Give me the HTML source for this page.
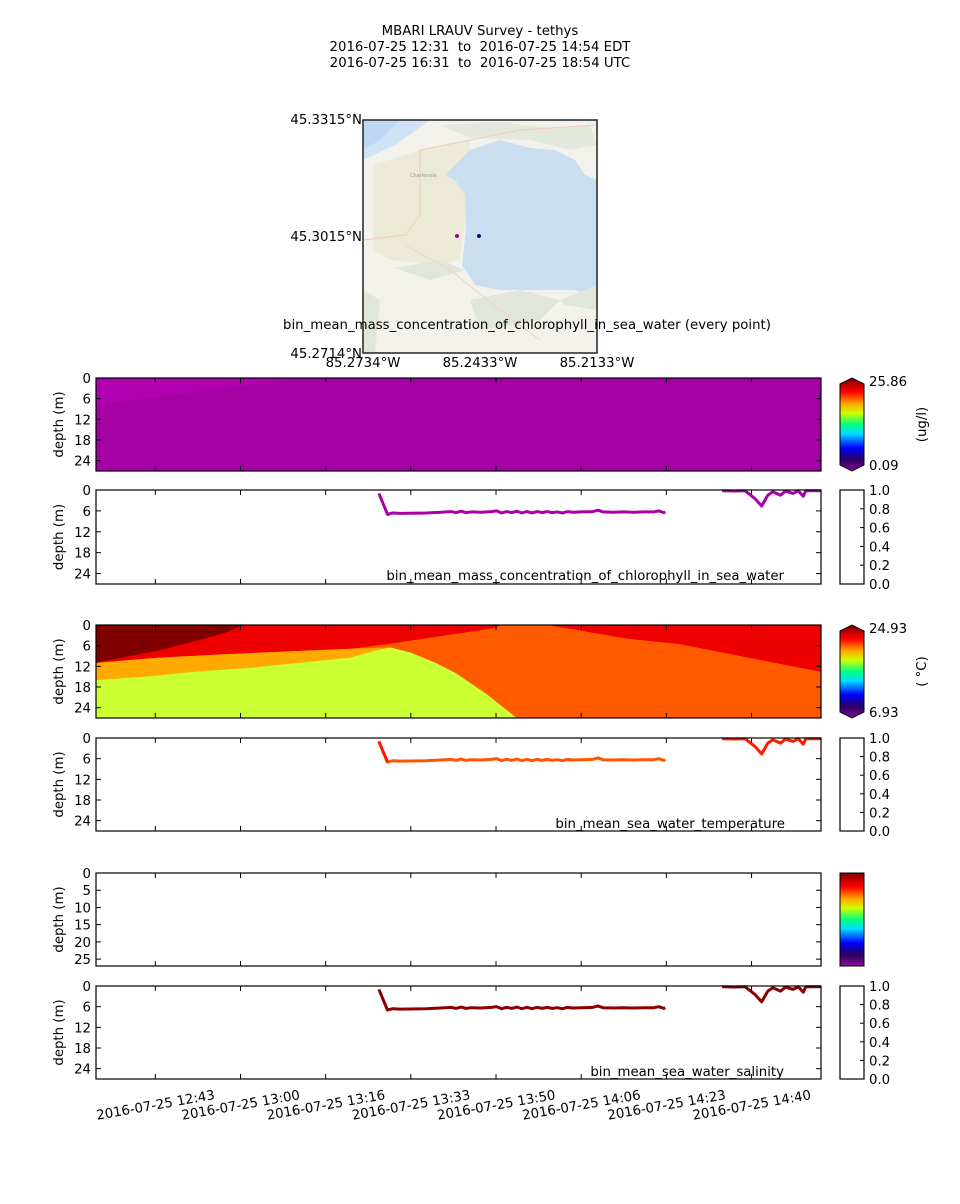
<!DOCTYPE html>
<html><head><meta charset="utf-8"><style>
body{margin:0;background:#fff;font-family:"DejaVu Sans","Liberation Sans",sans-serif;}
svg text{font-family:"DejaVu Sans","Liberation Sans",sans-serif;fill:#000;white-space:pre;}
</style></head><body>
<svg id="fig" width="960" height="1200" viewBox="0 0 960 1200" xmlns="http://www.w3.org/2000/svg" xml:space="preserve">
<defs>
<linearGradient id="cmap" x1="0" y1="1" x2="0" y2="0">
<stop offset="0" stop-color="#8a0a9a"/><stop offset="0.12" stop-color="#2a0060"/><stop offset="0.25" stop-color="#0000ff"/>
<stop offset="0.4" stop-color="#00ddff"/><stop offset="0.5" stop-color="#00ff80"/><stop offset="0.62" stop-color="#ccff00"/>
<stop offset="0.72" stop-color="#ffaa00"/><stop offset="0.85" stop-color="#ff0000"/><stop offset="1" stop-color="#800000"/>
</linearGradient>
</defs>
<g font-size="13.3" text-anchor="middle">
<text x="480" y="35">MBARI LRAUV Survey - tethys</text>
<text x="480" y="51">2016-07-25 12:31  to  2016-07-25 14:54 EDT</text>
<text x="480" y="67">2016-07-25 16:31  to  2016-07-25 18:54 UTC</text>
</g>
<g>
<rect x="363" y="120" width="234" height="233" fill="#f2f1ec"/>
<path d="M363 120 L430 120 L395 145 L363 160Z" fill="#cfe3f5"/>
<path d="M363 120 L400 120 L380 140 L363 150Z" fill="#bcd8f4"/>
<path d="M373 165 L420 150 L470 140 L470 180 L460 260 L440 265 L390 260 L373 250Z" fill="#ecead6"/>
<path d="M470 150 L500 140 L530 148 L555 150 L575 160 L585 175 L597 180 L597 300 L575 290 L555 290 L530 290 L500 290 L475 285 L462 265 L466 230 L465 195 L455 180 L445 175 Z" fill="#cbdeef"/>
<path d="M440 125 L500 122 L550 128 L590 125 L597 145 L570 150 L530 140 L470 138Z" fill="#e4e8dc"/>
<path d="M395 268 L440 260 L465 270 L430 280Z M470 300 L520 290 L560 300 L540 320 L480 330Z M560 300 L597 285 L597 310 L565 305Z M363 290 L380 300 L375 353 L363 353Z" fill="#e0e6da"/>
<path d="M420 150 L420 215 L405 235 L363 240 M420 150 L520 130 L597 125" stroke="#f8c8b8" fill="none" stroke-width="1"/>
<path d="M405 245 L450 270 L500 310 L540 340" stroke="#f8d0c0" fill="none"/>
<text x="410" y="177" font-size="5" style="fill:#999">Charlevoix</text>
<circle cx="457" cy="236" r="2" fill="#a000a0"/><circle cx="479" cy="236" r="2" fill="#2a0070"/>
<rect x="363" y="120" width="234" height="233" fill="none" stroke="#222" stroke-width="1.5"/>
<g font-size="13.3"><text x="362" y="124" text-anchor="end">45.3315°N</text><text x="362" y="241" text-anchor="end">45.3015°N</text><text x="362" y="358" text-anchor="end">45.2714°N</text>
<text x="363" y="367" text-anchor="middle">85.2734°W</text><text x="480" y="367" text-anchor="middle">85.2433°W</text><text x="597" y="367" text-anchor="middle">85.2133°W</text></g>
</g>
<text x="527" y="329" font-size="13.3" text-anchor="middle">bin_mean_mass_concentration_of_chlorophyll_in_sea_water (every point)</text>
<g id="panels"></g>
</svg>
<script>
const T0=0, T1=143, DMAX=27;
const timeTickMin=[11.7,28.5,45.3,62.1,78.9,95.7,112.5,129.3];
const timeTickLabels=["2016-07-25 12:43","2016-07-25 13:00","2016-07-25 13:16","2016-07-25 13:33","2016-07-25 13:50","2016-07-25 14:06","2016-07-25 14:23","2016-07-25 14:40"];
const depthTicks=[0,6,12,18,24];
const depthTicks5=[0,5,10,15,20,25];
const cbTicks=["0.0","0.2","0.4","0.6","0.8","1.0"];
const trackTime1=[55.8,57.5,58.5,60,65,68,70,71,72,73,74,76,78,79,80,81,82,83,84,85,86,87,88,89,90,91,92,93,94,96,98,99,100,102,104,106,108,110,111,112,112.3];
const trackDepth1=[1,7.0,6.6,6.7,6.6,6.4,6.2,6.5,6.1,6.5,6.3,6.4,6.2,6.0,6.6,6.2,6.5,6.1,6.6,6.2,6.6,6.2,6.5,6.2,6.5,6.3,6.6,6.2,6.4,6.3,6.2,5.8,6.3,6.4,6.3,6.4,6.3,6.3,6.0,6.5,6.3];
const trackTime2=[123.5,126,128,130,131.3,132.5,133.5,135,136,137.5,138.5,139.5,140,143];
const trackDepth2=[0.2,0.3,0.2,2.5,4.6,1.5,0.5,1.5,0.3,1.0,0.2,1.8,0.2,0.2];
const chlRegions=[{c:"#a400a4",p:[[0,0],[143,0],[143,27],[0,27]]},{c:"#b000b0",p:[[0,0],[40,0],[0,8]]}];
const tempRegions=[
{c:"#ee0000",p:[[0,0],[143,0],[143,27],[0,27]]},
{c:"#ff5a00",p:[[50,7],[60,5],[78,1],[80,0],[89,0],[95,1.5],[105,4],[115,5.5],[143,13.6],[143,27],[50,27]]},
{c:"#ffaa00",p:[[0,11],[12,9.5],[25,8.5],[40,7.5],[52,6.8],[58,6.5],[60,27],[0,27]]},
{c:"#ccff33",p:[[0,16],[10,15],[20,13.5],[30,12.5],[40,11],[50,9.5],[55,7.5],[58,6.5],[62,8],[67,11],[71,14],[77,20],[83,27],[0,27]]},
{c:"#800000",p:[[0,0],[29,0],[26,2],[20,4.5],[12,7.5],[5,9.5],[0,11]]}];
const X0=96,X1=821;
const xs=t=>X0+(t-T0)/(T1-T0)*(X1-X0);
const NS="http://www.w3.org/2000/svg";
const root=document.getElementById('panels');
function el(tag,a,parent){const e=document.createElementNS(NS,tag);for(const k in a)e.setAttribute(k,a[k]);(parent||root).appendChild(e);return e;}
function txt(x,y,s,a,parent){const e=el('text',Object.assign({x:x,y:y,'font-size':13.3},a||{}),parent);e.textContent=s;return e;}
function panel(top,h,name,ticks){
  const g=el('g',{});
  
  
  const ys=d=>top+d/DMAX*h;
  return {g,ys,top,h,ticks};
}
function frame(P){
  const g=P.g;
  el('rect',{x:X0,y:P.top,width:X1-X0,height:P.h,fill:'none',stroke:'#000','stroke-width':1.2},g);
  P.ticks.forEach(d=>{const y=P.ys(d);el('line',{x1:X0,x2:X0+5,y1:y,y2:y,stroke:'#000'},g);el('line',{x1:X1-5,x2:X1,y1:y,y2:y,stroke:'#000'},g);
    const t=txt(91,y+5,String(d),{'text-anchor':'end'},g);});
  timeTickMin.forEach(m=>{const x=xs(m);el('line',{x1:x,x2:x,y1:P.top,y2:P.top+5,stroke:'#000'},g);el('line',{x1:x,x2:x,y1:P.top+P.h-5,y2:P.top+P.h,stroke:'#000'},g);});
  const yl=txt(0,0,'depth (m)',{'text-anchor':'middle',transform:`translate(63,${P.top+P.h/2}) rotate(-90)`},g);
  
}
function heat(P,regions){
  const cp=el('clipPath',{id:'c'+P.top},P.g);el('rect',{x:X0,y:P.top,width:X1-X0,height:P.h},cp);
  const hg=el('g',{'clip-path':`url(#c${P.top})`},P.g);
  regions.forEach(r=>{const p=el('polygon',{points:r.p.map(q=>xs(q[0])+','+P.ys(q[1])).join(' '),fill:r.c},hg);
    });
}
function track(P,color,startColor){
  [[trackTime1,trackDepth1],[trackTime2,trackDepth2]].forEach((s,i)=>{
    const p=el('polyline',{points:s[0].map((t,j)=>xs(t)+','+P.ys(s[1][j])).join(' '),fill:'none',stroke:(i===1&&startColor)?startColor:color,'stroke-width':3,'stroke-linejoin':'round'},P.g);
    
    if(startColor&&i===0){const q=el('polyline',{points:[0,1].map(j=>xs(s[0][j])+','+P.ys(s[1][j])).join(' '),fill:'none',stroke:startColor,'stroke-width':3},P.g);
      }
  });
}
function cbar(top,h,pointed,hi,lo,unit){
  const g=el('g',{});
  if(pointed){el('polygon',{points:`840,${top+6} 852,${top} 864,${top+6} 864,${top+h-6} 852,${top+h} 840,${top+h-6}`,fill:'url(#cmap)',stroke:'#000'},g);
    txt(869,top+8,hi,{},g);txt(869,top+h-1,lo,{},g);
    txt(0,0,unit,{'text-anchor':'middle',transform:`translate(926,${top+h/2}) rotate(-90)`},g);}
  else el('rect',{x:840,y:top,width:24,height:h,fill:'url(#cmap)',stroke:'#000'},g);
}
function cbEmpty(top,h){
  const g=el('g',{});
  el('rect',{x:840,y:top,width:24,height:h,fill:'#fff',stroke:'#000','stroke-width':1.2},g);
  cbTicks.forEach((s,i)=>{const y=top+h-i/5*h;el('line',{x1:860,x2:864,y1:y,y2:y,stroke:'#000'},g);txt(869,y+5,s,{},g);});
}
let P1=panel(378,93,'chlorophyll-heatmap',depthTicks);heat(P1,chlRegions);frame(P1);cbar(378,93,true,'25.86','0.09','(ug/l)');
let P2=panel(490,94,'chlorophyll-track',depthTicks);track(P2,'#aa00aa');frame(P2);cbEmpty(490,94);
txt(784,580,'bin_mean_mass_concentration_of_chlorophyll_in_sea_water',{'text-anchor':'end'},P2.g);
let P3=panel(625,93,'temperature-heatmap',depthTicks);heat(P3,tempRegions);frame(P3);cbar(625,93,true,'24.93','6.93','( °C)');
let P4=panel(738,93,'temperature-track',depthTicks);track(P4,'#ff5500','#ff1a00');frame(P4);cbEmpty(738,93);
txt(785,828,'bin_mean_sea_water_temperature',{'text-anchor':'end'},P4.g);
let P5=panel(873,93,'salinity-heatmap',depthTicks5);frame(P5);cbar(873,93,false);
let P6=panel(986,93,'salinity-track',depthTicks);track(P6,'#8b0000');frame(P6);cbEmpty(986,93);
txt(784,1076,'bin_mean_sea_water_salinity',{'text-anchor':'end'},P6.g);
timeTickLabels.forEach((s,i)=>{const x=xs(timeTickMin[i]);const t=txt(0,0,s,{'text-anchor':'end',transform:`translate(${x+60},${1099}) rotate(-10)`});
  });
</script>
</body></html>
